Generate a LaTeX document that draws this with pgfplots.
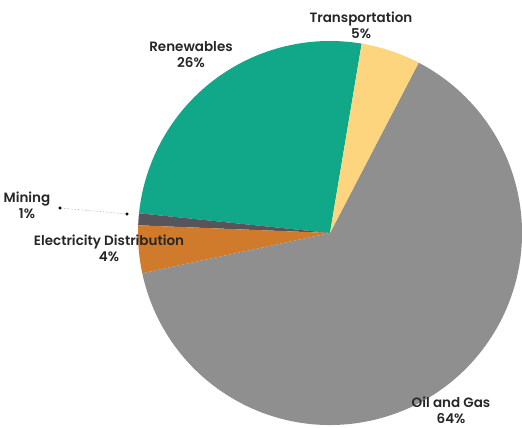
\documentclass[border=0pt]{standalone}
\usepackage{pgfplots}
\pgfplotsset{compat=1.18}
\usepackage{fontspec}
\setmainfont{Poppins}[BoldFont={Poppins SemiBold}]
\definecolor{renew}{RGB}{16,168,136}
\definecolor{trans}{RGB}{253,213,126}
\definecolor{oil}{RGB}{143,143,143}
\definecolor{elec}{RGB}{208,122,44}
\definecolor{mining}{RGB}{88,84,92}
\tikzset{lab/.style={font=\fontsize{13.5}{16}\selectfont\bfseries, text=black!85, align=center, inner sep=0pt}}
\begin{document}
\begin{tikzpicture}
\begin{axis}[
  name=ax,
  x=1pt, y=1pt,
  xmin=0, xmax=522, ymin=0, ymax=428,
  hide axis, clip=false,
]
\pgfplotsextra{
  \foreach \v/\c [remember=\b as \a (initially 80.5)] in {26/renew,1/mining,4/elec,64/oil,5/trans} {
    \pgfmathsetmacro\b{\a+3.6*\v}
    \fill[\c] (axis cs:330,195) -- ++(\a:192pt) arc[start angle=\a, end angle=\b, radius=192pt] -- cycle;
  }
}
\addplot[densely dotted, black!55, thin, mark=*, mark size=1.4pt, mark options={solid, fill=black, draw=black}] coordinates {(60,220) (127,214)};
\node[lab] at (axis cs:191,373) {Renewables\\26\%};
\node[lab] at (axis cs:361,403) {Transportation\\5\%};
\node[lab] at (axis cs:27,223) {Mining\\1\%};
\node[lab] at (axis cs:109,180) {Electricity Distribution\\4\%};
\node[lab] at (axis cs:451,18) {Oil and Gas\\64\%};
\end{axis}
\pgfresetboundingbox
\path (ax.south west) rectangle (ax.north east);
\end{tikzpicture}
\end{document}
